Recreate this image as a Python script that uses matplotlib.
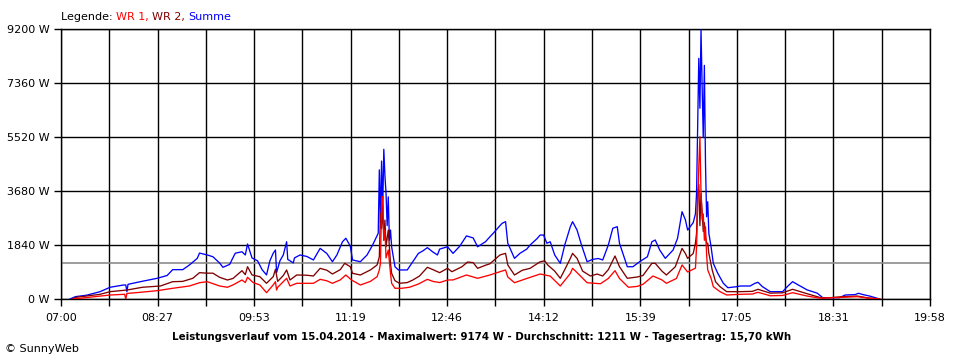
import matplotlib
matplotlib.use("Agg")
import matplotlib.pyplot as plt
import numpy as np

# Summe (blue)
sum_time = ["07:08", "07:13", "07:23", "07:35", "07:44", "07:56", "07:58", "07:59", "08:00", "08:11",
            "08:26", "08:35", "08:40", "08:49", "08:55", "09:02", "09:04", "09:11", "09:16", "09:22",
            "09:25", "09:31", "09:36", "09:42", "09:45", "09:47", "09:51", "09:56", "10:00", "10:04",
            "10:07", "10:10", "10:12", "10:13", "10:16", "10:19", "10:22", "10:23", "10:28", "10:29",
            "10:34", "10:40", "10:46", "10:52", "10:58", "11:03", "11:07", "11:12", "11:15", "11:19",
            "11:21", "11:28", "11:34", "11:39", "11:44", "11:45", "11:46", "11:47", "11:48", "11:49",
            "11:50", "11:51", "11:52", "11:53", "11:54", "11:55", "11:56", "11:59", "12:02", "12:10",
            "12:14", "12:20", "12:24", "12:28", "12:33", "12:37", "12:39", "12:46", "12:51", "12:57",
            "13:03", "13:09", "13:13", "13:20", "13:24", "13:27", "13:33", "13:35", "13:38", "13:40",
            "13:46", "13:51", "13:57", "14:00", "14:06", "14:09", "14:12", "14:15", "14:18", "14:22",
            "14:27", "14:31", "14:36", "14:38", "14:42", "14:46", "14:51", "14:56", "15:01", "15:05",
            "15:10", "15:14", "15:18", "15:20", "15:27", "15:32", "15:38", "15:45", "15:49", "15:52",
            "15:56", "16:01", "16:08", "16:12", "16:16", "16:19", "16:21", "16:26", "16:28", "16:29",
            "16:30", "16:31", "16:32", "16:33", "16:34", "16:35", "16:36", "16:37", "16:38", "16:39",
            "16:40", "16:42", "16:44", "16:48", "16:53", "16:57", "17:05", "17:08", "17:17", "17:21",
            "17:24", "17:28", "17:35", "17:46", "17:51", "17:55", "18:00", "18:08", "18:17", "18:22",
            "18:37", "18:42", "18:51", "18:54", "18:58", "19:04", "19:13"]
sum_w = [0, 80, 130, 250, 400, 477, 477, 250, 500, 590,
         705, 800, 1000, 1000, 1160, 1385, 1565, 1500, 1440, 1225,
         1080, 1180, 1560, 1610, 1500, 1874, 1400, 1300, 1000, 820,
         1300, 1560, 1670, 900, 1300, 1500, 1950, 1350, 1230, 1400,
         1500, 1450, 1330, 1725, 1550, 1270, 1500, 1950, 2070, 1800,
         1330, 1270, 1500, 1840, 2240, 4400, 2600, 4700, 3000, 5100,
         4200, 3600, 2500, 3480, 2000, 2350, 1780, 1100, 990, 990,
         1215, 1555, 1640, 1750, 1600, 1500, 1700, 1780, 1555, 1800,
         2150, 2080, 1780, 1950, 2120, 2240, 2500, 2580, 2635, 1900,
         1385, 1560, 1700, 1840, 2050, 2180, 2180, 1900, 1950, 1500,
         1215, 1840, 2465, 2635, 2350, 1840, 1270, 1350, 1380, 1330,
         1840, 2410, 2465, 1900, 1100, 1100, 1270, 1440, 1950, 2010,
         1670, 1385, 1670, 2070, 2975, 2700, 2350, 2600, 2900, 3600,
         5985, 8200, 6500, 9174, 7230, 5500, 7960, 4620, 2800, 3315,
         2240, 1780, 1215, 875, 535, 385, 420, 443, 443, 530,
         570, 420, 250, 250, 450, 590, 480, 310, 200, 45,
         45, 136, 150, 195, 150, 100, 0]

# WR 2 (dark red)
wr2_time = ["07:10", "07:14", "07:35", "07:44", "07:59", "08:13", "08:29", "08:40", "08:49", "08:58",
            "09:04", "09:11", "09:16", "09:22", "09:29", "09:34", "09:42", "09:45", "09:47", "09:51",
            "09:58", "10:04", "10:10", "10:12", "10:14", "10:19", "10:22", "10:25", "10:31", "10:40",
            "10:46", "10:52", "10:58", "11:03", "11:10", "11:14", "11:19", "11:21", "11:28", "11:37",
            "11:43", "11:45", "11:46", "11:47", "11:48", "11:49", "11:50", "11:51", "11:53", "11:55",
            "11:56", "11:59", "12:03", "12:10", "12:15", "12:21", "12:28", "12:33", "12:39", "12:46",
            "12:50", "12:59", "13:04", "13:09", "13:13", "13:20", "13:24", "13:33", "13:38", "13:40",
            "13:46", "13:53", "14:00", "14:09", "14:13", "14:16", "14:22", "14:27", "14:31", "14:36",
            "14:38", "14:42", "14:47", "14:54", "15:00", "15:05", "15:10", "15:16", "15:20", "15:27",
            "15:36", "15:41", "15:49", "15:52", "15:58", "16:02", "16:10", "16:16", "16:19", "16:21",
            "16:26", "16:28", "16:29", "16:30", "16:31", "16:32", "16:33", "16:34", "16:35", "16:36",
            "16:37", "16:38", "16:39", "16:40", "16:43", "16:46", "16:50", "16:56", "17:08", "17:19",
            "17:24", "17:35", "17:46", "17:55", "18:08", "18:22", "18:40", "18:53", "19:02", "19:13"]
wr2_w = [0, 60, 160, 250, 306, 400, 443, 590, 600, 705,
         897, 880, 880, 740, 647, 700, 965, 830, 1100, 820,
         760, 535, 760, 1010, 600, 800, 990, 647, 818, 810,
         784, 1045, 980, 852, 1000, 1215, 1100, 875, 818, 990,
         1160, 1440, 2920, 2400, 3200, 2000, 2690, 1780, 2350, 1215,
         875, 625, 535, 560, 647, 784, 1080, 1000, 897, 1045,
         930, 1100, 1260, 1240, 1045, 1150, 1200, 1500, 1555, 1160,
         818, 980, 1045, 1270, 1300, 1150, 950, 705, 1000, 1385,
         1555, 1385, 950, 784, 850, 784, 1000, 1465, 1100, 705,
         750, 800, 1215, 1215, 950, 818, 1100, 1725, 1550, 1385,
         1550, 1900, 2240, 3600, 3900, 2500, 3600, 2920, 2300, 2600,
         2120, 1900, 1900, 1555, 990, 590, 420, 250, 250, 260,
         330, 200, 210, 330, 180, 24, 80, 100, 40, 0]

# WR 1 (red)
wr1_time = ["07:11", "07:23", "07:44", "07:57", "07:58", "07:59", "08:11", "08:26", "08:40", "08:55",
            "09:04", "09:11", "09:22", "09:29", "09:34", "09:42", "09:45", "09:47", "09:52", "09:58",
            "10:04", "10:10", "10:12", "10:13", "10:14", "10:22", "10:25", "10:31", "10:46", "10:52",
            "10:58", "11:03", "11:10", "11:15", "11:20", "11:28", "11:37", "11:43", "11:45", "11:46",
            "11:47", "11:48", "11:49", "11:50", "11:51", "11:53", "11:55", "11:56", "11:59", "12:05",
            "12:12", "12:20", "12:28", "12:33", "12:39", "12:46", "12:51", "13:03", "13:13", "13:24",
            "13:33", "13:38", "13:40", "13:46", "13:57", "14:09", "14:18", "14:27", "14:36", "14:38",
            "14:42", "14:51", "15:03", "15:10", "15:16", "15:20", "15:28", "15:36", "15:41", "15:50",
            "15:58", "16:02", "16:11", "16:16", "16:21", "16:28", "16:29", "16:30", "16:31", "16:32",
            "16:33", "16:34", "16:35", "16:36", "16:37", "16:38", "16:39", "16:42", "16:44", "16:50",
            "16:56", "17:08", "17:19", "17:24", "17:35", "17:46", "17:55", "18:08", "18:19", "18:40",
            "18:53", "19:02", "19:13"]
wr1_w = [0, 50, 136, 160, 0, 190, 228, 283, 365, 443,
         555, 590, 443, 400, 480, 647, 560, 740, 560, 480,
         215, 480, 590, 306, 400, 705, 443, 535, 535, 670,
         620, 535, 650, 818, 650, 477, 600, 760, 990, 1215,
         3260, 3485, 2010, 2350, 1400, 1670, 875, 535, 365, 365,
         400, 511, 670, 600, 560, 647, 650, 818, 705, 818,
         930, 990, 750, 555, 700, 852, 780, 443, 870, 1045,
         900, 555, 520, 700, 965, 700, 400, 430, 500, 784,
         650, 535, 700, 1160, 920, 1050, 1780, 3145, 4510, 5530,
         3600, 2690, 2900, 2000, 2460, 1500, 990, 705, 420, 250,
         136, 160, 170, 228, 110, 120, 215, 100, 30, 58,
         80, 30, 0]

avg_w = 1211
tick_labels = ["07:00", "08:27", "09:53", "11:19", "12:46", "14:12", "15:39", "17:05", "18:31", "19:58"]
y_ticks = [0, 1840, 3680, 5520, 7360, 9200]


def to_min(times):
    # minutes after 07:00
    return np.array([int(t[:2]) * 60 + int(t[3:]) - 420 for t in times])


fig = plt.figure(figsize=(9.6, 3.6), dpi=100)
ax = fig.add_axes([61 / 960, 61 / 360, 869 / 960, 270 / 360])

span = 778
ax.set_xlim(0, span)
ax.set_ylim(0, 9200)

major = np.linspace(0, span, 10)
minor = np.linspace(0, span, 19)
ax.set_xticks(major)
ax.set_xticks(minor, minor=True)
ax.set_xticklabels(tick_labels)
ax.set_yticks(y_ticks)
ax.set_yticklabels([f"{v} W" for v in y_ticks])

ax.grid(True, which="both", color="black", lw=1.0)
ax.tick_params(which="both", direction="out", length=5, width=1.0, color="black",
               labelsize=8, pad=3)
ax.tick_params(axis="x", pad=5)
for s in ax.spines.values():
    s.set_color("black")
    s.set_linewidth(1.0)

ax.axhline(avg_w, color="#8c8c8c", lw=1.2, zorder=2)

lw = 0.95
ax.plot(to_min(sum_time), sum_w, color="#0000ff", lw=lw, zorder=3)
ax.plot(to_min(wr2_time), wr2_w, color="#800000", lw=lw, zorder=4)
ax.plot(to_min(wr1_time), wr1_w, color="#ff0000", lw=lw, zorder=5)

# legend line at the top
fig.canvas.draw()
renderer = fig.canvas.get_renderer()
x = 61 / 960
parts = [("Legende: ", "black"), ("WR 1, ", "#ff0000"), ("WR 2, ", "#800000"), ("Summe", "#0000ff")]
for txt, col in parts:
    t = fig.text(x, 1 - 17 / 360, txt, color=col, fontsize=8, va="center", ha="left")
    bb = t.get_window_extent(renderer)
    x += bb.width / fig.bbox.width

fig.text(482 / 960, 1 - 337 / 360,
         "Leistungsverlauf vom 15.04.2014 - Maximalwert: 9174 W - Durchschnitt: 1211 W - Tagesertrag: 15,70 kWh",
         fontsize=7.4, fontweight="bold", ha="center", va="center")
fig.text(5 / 960, 1 - 349 / 360, "\u00a9 SunnyWeb", fontsize=8, ha="left", va="center")

fig.savefig("out.png", dpi=100, facecolor="white")
